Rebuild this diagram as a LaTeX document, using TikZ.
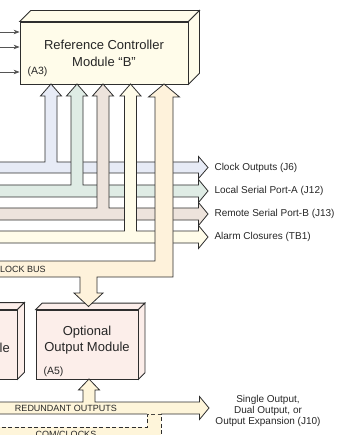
\documentclass[tikz,border=0pt]{standalone}
\usepackage{fontspec}
\setmainfont{Liberation Sans}
\usetikzlibrary{arrows.meta}

\definecolor{edge}{HTML}{2E2E2E}
\definecolor{wire}{HTML}{555555}
\definecolor{busblue}{HTML}{E7EBF6}
\definecolor{busgreen}{HTML}{DFECE5}
\definecolor{bustan}{HTML}{EDE3DC}
\definecolor{buscream}{HTML}{FFFCE9}
\definecolor{buspeach}{HTML}{FEF2DB}
\definecolor{busout}{HTML}{FEF5DA}
\definecolor{modcream}{HTML}{FFFCEA}
\definecolor{modpink}{HTML}{FCEEEA}

% front face of a module as a node, plus top and side faces drawn behind it
\newcommand\solidmodule[6]{% name, center, width, height, depth, fill
  \node[modface, fill=#6, minimum width=#3, minimum height=#4] (#1) at #2 {};
  \filldraw[modline, fill=#6] (#1.north west) -- ++(#5,-#5) -- ([xshift=#5pt,yshift=#5pt]#1.north east) -- (#1.north east) -- cycle;
  \filldraw[modline, fill=#6] (#1.north east) -- ++(#5,-#5) -- ([xshift=#5pt,yshift=#5pt]#1.south east) -- (#1.south east) -- cycle;
}

\tikzset{
  modline/.style={draw=edge, line width=0.8pt, line join=miter},
  modface/.style={modline, rectangle, inner sep=0pt},
  busline/.style={draw=edge, line width=0.8pt, line join=miter},
  modtext/.style={font=\fontsize{13}{16.5}\selectfont, align=center, text=black!85},
  tagtext/.style={font=\fontsize{10.5}{12}\selectfont, text=black!85},
  porttext/.style={font=\fontsize{10}{11}\selectfont, text=black!85, anchor=west},
  bustext/.style={font=\fontsize{9}{10}\selectfont, text=black!85},
  feed/.style={draw=wire, line width=0.8pt, -{Stealth[length=6pt,width=4.5pt,fill=black]}},
}

\begin{document}
\begin{tikzpicture}[x=1pt,y=-1pt]
\useasboundingbox (0,0) rectangle (338,435);
\clip (0,0) rectangle (338,435);

% ---- modules ----
\solidmodule{a3}{(104,53)}{168}{62}{11}{modcream}
\node[modtext] (a3title) at (104,53.5) {Reference Controller\\Module “B”};
\node[tagtext, anchor=west] (a3tag) at (24,72) {(A3)};

\solidmodule{a4}{(-41.5,344.5)}{117}{69}{7}{modpink}
\node[modtext, anchor=east, inner sep=0pt] (a4title) at (10,348) {le};

\solidmodule{a5}{(87,344.5)}{102}{69}{6.5}{modpink}
\node[modtext] (a5title) at (87,340) {Optional\\Output Module};
\node[tagtext, anchor=west] (a5tag) at (40,371.5) {(A5)};

% ---- inputs on the left of the controller ----
\coordinate (in1) at (-5,32);
\coordinate (in2) at (-5,47);
\coordinate (in3) at (-5,72);
\draw[feed] (in1) -- (in1 -| a3.west);
\draw[feed] (in2) -- (in2 -| a3.west);
\draw[feed] (in3) -- (in3 -| a3.west);

% ---- T-shaped buses: horizontal run with a branch up into the controller ----
% clock outputs
\filldraw[busline, fill=busblue]
  (-5,162) -- (45,162) -- (45,96) -- (40.5,96) -- (51,84) -- (61.5,96) -- (57,96) -- (57,162)
  -- (198.5,162) -- (198.5,156.5) -- (208,167.5) -- (198.5,178.5) -- (198.5,173) -- (-5,173) -- cycle;
% local serial port A
\filldraw[busline, fill=busgreen]
  (-5,185) -- (71,185) -- (71,96) -- (66.5,96) -- (77,84) -- (87.5,96) -- (83,96) -- (83,185)
  -- (198.5,185) -- (198.5,179.5) -- (208,191) -- (198.5,202.5) -- (198.5,197) -- (-5,197) -- cycle;
% remote serial port B
\filldraw[busline, fill=bustan]
  (-5,208) -- (97,208) -- (97,96) -- (92.5,96) -- (103,84) -- (113.5,96) -- (109,96) -- (109,208)
  -- (198.5,208) -- (198.5,202.5) -- (208,214) -- (198.5,225.5) -- (198.5,220) -- (-5,220) -- cycle;
% alarm closures
\filldraw[busline, fill=buscream]
  (-5,231) -- (124.5,231) -- (124.5,96) -- (120,96) -- (130.5,84) -- (141,96) -- (136.5,96) -- (136.5,231)
  -- (198.5,231) -- (198.5,225.5) -- (208,237) -- (198.5,248.5) -- (198.5,243) -- (-5,243) -- cycle;
% clock bus: up into the controller and down into the output module
\filldraw[busline, fill=buspeach]
  (-5,261) -- (155,261) -- (155,97) -- (148.5,97) -- (164,84) -- (179.5,97) -- (173,97) -- (173,277)
  -- (97,277) -- (97,293) -- (103,293) -- (88.5,306.5) -- (74,293) -- (80,293) -- (80,277)
  -- (-5,277) -- cycle;

\node[porttext] (p1) at (211,168) {Clock Outputs (J6)};
\node[porttext] (p2) at (211,191) {Local Serial Port-A (J12)};
\node[porttext] (p3) at (211,214) {Remote Serial Port-B (J13)};
\node[porttext] (p4) at (211,237) {Alarm Closures (TB1)};
\node[bustext, anchor=west, inner sep=0pt] (clkbus) at (0,269) {LOCK BUS};

% ---- com/clocks bus, dashed, joining the redundant outputs ----
\filldraw[busline, fill=busout, dashed, dash pattern=on 4pt off 2.5pt]
  (-5,427) -- (147,427) -- (147,414) -- (161,414) -- (161,445) -- (-5,445);
\node[bustext] (comclk) at (66,434) {COM/CLOCKS};

% ---- redundant outputs bus with a branch up into the output module ----
\fill[busout]
  (-5,402) -- (83,402) -- (83,390) -- (78.5,390) -- (89,379) -- (99.5,390) -- (95,390) -- (95,402)
  -- (199.5,402) -- (199.5,396.5) -- (209,408) -- (199.5,419.5) -- (199.5,414) -- (-5,414) -- cycle;
\draw[busline]
  (147,414) -- (-5,414) (-5,402) -- (83,402) -- (83,390) -- (78.5,390) -- (89,379) -- (99.5,390) -- (95,390) -- (95,402)
  -- (199.5,402) -- (199.5,396.5) -- (209,408) -- (199.5,419.5) -- (199.5,414) -- (161,414);
\node[bustext] (redout) at (66,408.5) {REDUNDANT OUTPUTS};

\node[font=\fontsize{10}{11}\selectfont, align=center, text=black!85] (outopts) at (268,410.5)
  {Single Output,\\Dual Output, or\\Output Expansion (J10)};
\end{tikzpicture}
\end{document}
